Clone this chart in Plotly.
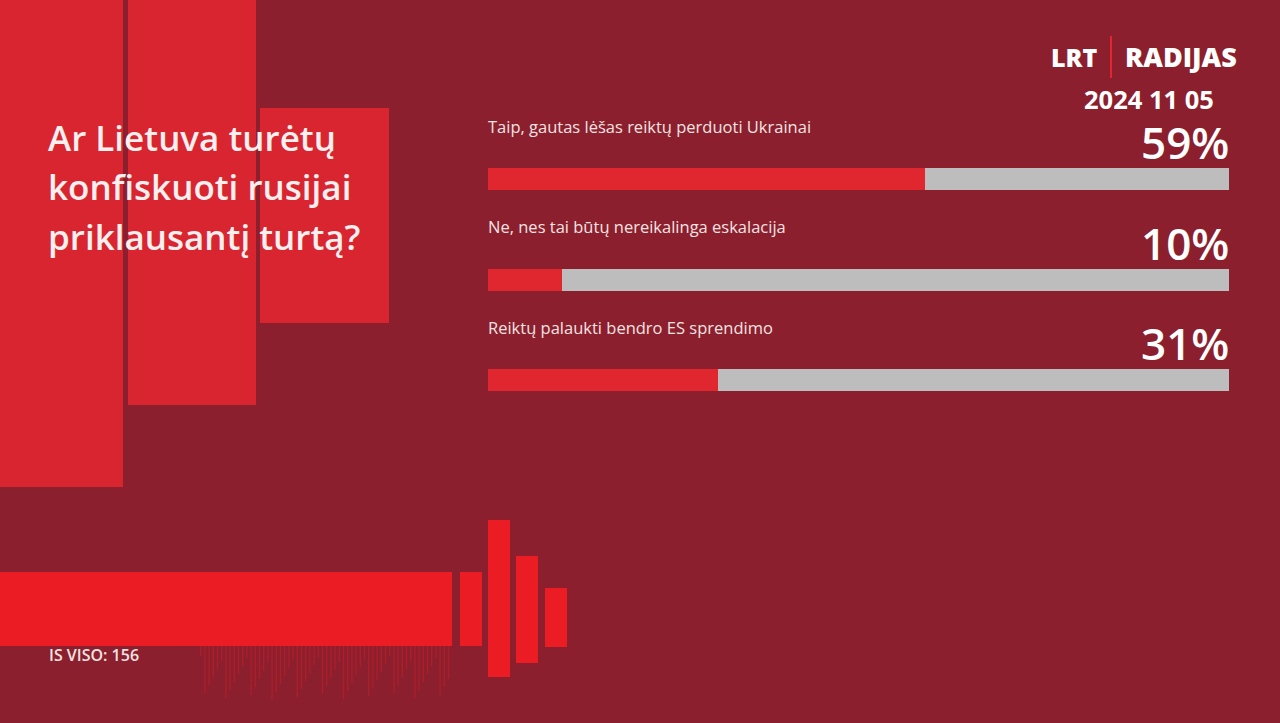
import plotly.graph_objects as go

# ---- data ----
answers = [
    "Taip, gautas lėšas reiktų perduoti Ukrainai",
    "Ne, nes tai būtų nereikalinga eskalacija",
    "Reiktų palaukti bendro ES sprendimo",
]
shares = [59, 10, 31]
question = ["Ar Lietuva turėtų", "konfiskuoti rusijai", "priklausantį turtą?"]
brand_left = "LRT"
brand_right = "RADIJAS"
date_label = "2024 11 05"
total_label = "IS VISO: 156"

# ---- styles ----
W, H = 1280, 723
BG = "#8C1F2D"
BLOCK = "#D92530"
BAR_RED = "#E0262F"
BAR_GREY = "#BDBDBD"
WAVE = "#EC1C24"
FONT = "Open Sans"

def px(x):
    return x / W

def py(y):
    return 1 - y / H

rest = [100 - s for s in shares]
cats = list(range(len(answers)))

fig = go.Figure()
fig.add_trace(go.Bar(y=cats, x=shares, orientation="h", marker=dict(color=BAR_RED, line=dict(width=0)),
                     width=0.22, hoverinfo="skip"))
fig.add_trace(go.Bar(y=cats, x=rest, orientation="h", marker=dict(color=BAR_GREY, line=dict(width=0)),
                     width=0.22, hoverinfo="skip"))

shapes = []
def rect(x0, y0, x1, y1, color, opacity=1.0):
    shapes.append(dict(type="rect", xref="paper", yref="paper", x0=px(x0), x1=px(x1),
                       y0=py(y1), y1=py(y0), fillcolor=color, line=dict(width=0),
                       opacity=opacity, layer="below"))

# decorative blocks
rect(0, 0, 123, 487, BLOCK)
rect(128, 0, 256, 405, BLOCK)
rect(260, 108, 389, 323, BLOCK)

# waveform decoration
rect(0, 572, 452, 646, WAVE)
for i in range(60):
    x0 = 200 + i * 4.2
    if x0 > 450:
        break
    h = 646 + (10 + (i * 37) % 45)
    rect(x0, 646, x0 + 1.4, h, "#B81E2A", 0.7)
rect(460, 572, 482, 646, WAVE)
rect(488, 520, 510, 677, WAVE)
rect(516, 556, 538, 663, WAVE)
rect(545, 588, 567, 647, WAVE)

# logo divider
shapes.append(dict(type="line", xref="paper", yref="paper", x0=px(1111), x1=px(1111),
                   y0=py(78), y1=py(36), line=dict(color="#E0262F", width=2)))

annotations = []
for i, line in enumerate(question):
    annotations.append(dict(xref="paper", yref="paper", x=px(46), y=py(137 + 50 * i),
                            text=line, showarrow=False, xanchor="left", yanchor="middle",
                            font=dict(family=FONT, size=35, weight=600, color="#FBEFEF")))

for i, (a, s) in enumerate(zip(answers, shares)):
    annotations.append(dict(xref="x", yref="y", x=0, y=i, text=a, showarrow=False,
                            xanchor="left", yanchor="middle", yshift=53, xshift=-2,
                            font=dict(family=FONT, size=16.5, color="#F3E3E3")))
    annotations.append(dict(xref="x", yref="y", x=100, y=i, text=f"{s}%", showarrow=False,
                            xanchor="right", yanchor="middle", yshift=37, xshift=2,
                            font=dict(family=FONT, size=44, weight=600, color="#FFFFFF")))

annotations.append(dict(xref="paper", yref="paper", x=px(1099), y=py(57), text=brand_left,
                        showarrow=False, xanchor="right", yanchor="middle",
                        font=dict(family=FONT, size=25, weight=800, color="#FFFFFF")))
annotations.append(dict(xref="paper", yref="paper", x=px(1123), y=py(57), text=brand_right,
                        showarrow=False, xanchor="left", yanchor="middle",
                        font=dict(family=FONT, size=27, weight=800, color="#FFFFFF")))
annotations.append(dict(xref="paper", yref="paper", x=px(1149), y=py(99), text=date_label,
                        showarrow=False, xanchor="center", yanchor="middle",
                        font=dict(family=FONT, size=25.5, weight="bold", color="#FFFFFF")))
annotations.append(dict(xref="paper", yref="paper", x=px(47), y=py(655), text=total_label,
                        showarrow=False, xanchor="left", yanchor="middle",
                        font=dict(family=FONT, size=16, weight=600, color="#F3E3E3")))

top_px, bot_px = 179 - 100.5 * 0.5, 380 + 100.5 * 0.5
fig.update_layout(
    width=W, height=H, margin=dict(l=0, r=0, t=0, b=0),
    paper_bgcolor=BG, plot_bgcolor="rgba(0,0,0,0)",
    barmode="stack", showlegend=False, bargap=0,
    xaxis=dict(domain=[px(488), px(1229)], range=[0, 100], visible=False, fixedrange=True),
    yaxis=dict(domain=[py(bot_px), py(top_px)], range=[2.5, -0.5], visible=False, fixedrange=True),
    shapes=shapes, annotations=annotations,
)

fig.write_html("out.html", config={"displayModeBar": False})
